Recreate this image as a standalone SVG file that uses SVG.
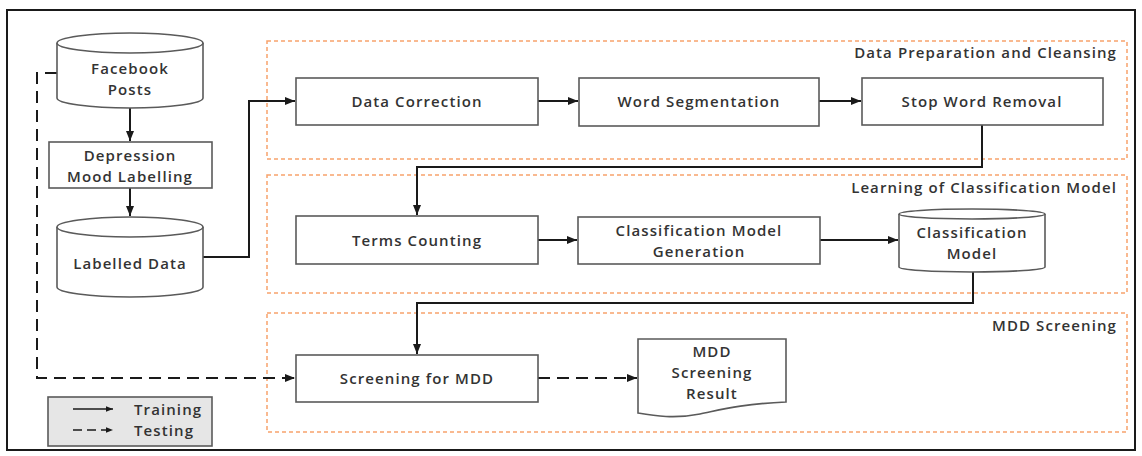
<svg xmlns="http://www.w3.org/2000/svg" width="1142" height="456" viewBox="0 0 1142 456">
<style>
.box{fill:#fff;stroke:#5a5a5a;stroke-width:1.6}
.grp{fill:none;stroke:#f7a36c;stroke-width:1.5;stroke-dasharray:4 3}
.t{font-family:"Open Sans","Liberation Sans",sans-serif;font-weight:600;font-size:15px;letter-spacing:1.1px;fill:#333;text-anchor:middle;dominant-baseline:central}
.gt{font-family:"Open Sans","Liberation Sans",sans-serif;font-weight:600;font-size:15px;letter-spacing:1.1px;fill:#333;text-anchor:end;dominant-baseline:central}
.c{fill:none;stroke:#1a1a1a;stroke-width:2}
.d{fill:none;stroke:#1a1a1a;stroke-width:2;stroke-dasharray:12 7}
</style>
<defs>
<marker id="ah" viewBox="0 0 10 10" refX="10" refY="5" markerWidth="5" markerHeight="5" orient="auto" markerUnits="strokeWidth">
<path d="M0,1 L10,5 L0,9 Z" fill="#1a1a1a"/>
</marker>
</defs>
<rect x="7" y="10" width="1128" height="440" fill="#fff" stroke="#1a1a1a" stroke-width="2"/>

<g id="grp-prep">
<rect class="grp" x="267" y="41" width="860" height="118"/>
<text class="gt" x="1117" y="52">Data Preparation and Cleansing</text>
</g>
<g id="grp-learn">
<rect class="grp" x="267" y="175" width="860" height="118"/>
<text class="gt" x="1117" y="187">Learning of Classification Model</text>
</g>
<g id="grp-mdd">
<rect class="grp" x="267" y="313" width="860" height="119"/>
<text class="gt" x="1117" y="325">MDD Screening</text>
</g>

<g id="connectors">
<path class="c" d="M130,108 L130,141" marker-end="url(#ah)"/>
<path class="c" d="M130,188 L130,216" marker-end="url(#ah)"/>
<path class="c" d="M203,257 L249,257 L249,101 L295,101" marker-end="url(#ah)"/>
<path class="c" d="M538,101 L578,101" marker-end="url(#ah)"/>
<path class="c" d="M819,101 L861,101" marker-end="url(#ah)"/>
<path class="c" d="M982,125 L982,167 L417,167 L417,215" marker-end="url(#ah)"/>
<path class="c" d="M538,240 L577,240" marker-end="url(#ah)"/>
<path class="c" d="M820,240 L898,240" marker-end="url(#ah)"/>
<path class="c" d="M973,271 L973,303 L417,303 L417,354" marker-end="url(#ah)"/>
<path class="d" d="M57,73 L37,73 L37,378 L295,378" marker-end="url(#ah)"/>
<path class="d" d="M538,378 L637,378" marker-end="url(#ah)"/>
</g>

<g id="facebook-posts">
<path class="box" d="M57,43 A73,10 0 0 1 203,43 L203,98 A73,10 0 0 1 57,98 Z"/>
<path class="box" d="M57,43 A73,10 0 0 0 203,43" fill="none"/>
<text class="t" x="130" y="68">Facebook</text>
<text class="t" x="130" y="89">Posts</text>
</g>
<g id="depression-labelling">
<rect class="box" x="49" y="142" width="163" height="46"/>
<text class="t" x="130" y="155">Depression</text>
<text class="t" x="130" y="176">Mood Labelling</text>
</g>
<g id="labelled-data">
<path class="box" d="M57,227 A73,10 0 0 1 203,227 L203,287 A73,10 0 0 1 57,287 Z"/>
<path class="box" d="M57,227 A73,10 0 0 0 203,227" fill="none"/>
<text class="t" x="130" y="263">Labelled Data</text>
</g>
<g id="data-correction">
<rect class="box" x="296" y="78" width="242" height="47"/>
<text class="t" x="417" y="101">Data Correction</text>
</g>
<g id="word-segmentation">
<rect class="box" x="579" y="78" width="240" height="48"/>
<text class="t" x="699" y="101">Word Segmentation</text>
</g>
<g id="stop-word-removal">
<rect class="box" x="862" y="78" width="241" height="47"/>
<text class="t" x="982" y="101">Stop Word Removal</text>
</g>
<g id="terms-counting">
<rect class="box" x="296" y="216" width="242" height="48"/>
<text class="t" x="417" y="240">Terms Counting</text>
</g>
<g id="classification-model-generation">
<rect class="box" x="578" y="217" width="242" height="47"/>
<text class="t" x="699" y="230">Classification Model</text>
<text class="t" x="699" y="251">Generation</text>
</g>
<g id="classification-model">
<path class="box" d="M899,214 A73,5 0 0 1 1045,214 L1045,267 A73,5 0 0 1 899,267 Z"/>
<path class="box" d="M899,214 A73,5 0 0 0 1045,214" fill="none"/>
<text class="t" x="972" y="232">Classification</text>
<text class="t" x="972" y="253">Model</text>
</g>
<g id="screening-for-mdd">
<rect class="box" x="296" y="355" width="242" height="47"/>
<text class="t" x="417" y="378">Screening for MDD</text>
</g>
<g id="mdd-screening-result">
<path class="box" d="M638,339 L786,339 L786,402 C740,404 720,410 700,414 C675,419 655,416 638,413 Z"/>
<text class="t" x="712" y="351">MDD</text>
<text class="t" x="712" y="372">Screening</text>
<text class="t" x="712" y="393">Result</text>
</g>
<g id="legend">
<rect x="48" y="397" width="164" height="49" fill="#e6e6e6" stroke="#5a5a5a" stroke-width="1.6"/>
<path class="c" d="M73,409 L113,409" marker-end="url(#ah)" style="stroke-width:1.5"/>
<path class="c" d="M73,430 L113,430" marker-end="url(#ah)" style="stroke-width:1.5;stroke-dasharray:9 5"/>
<text class="t" x="134" y="409" style="text-anchor:start">Training</text>
<text class="t" x="134" y="430" style="text-anchor:start">Testing</text>
</g>
</svg>
